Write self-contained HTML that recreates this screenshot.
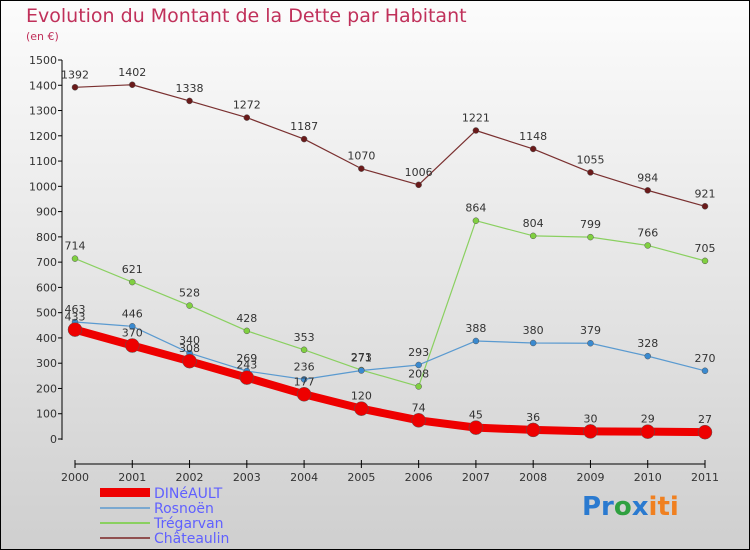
<!DOCTYPE html>
<html><head><meta charset="utf-8"><style>
body{margin:0}
#c{width:750px;height:550px;position:relative;overflow:hidden}
svg text{font-family:"DejaVu Sans","Liberation Sans",sans-serif}
</style></head><body>
<div id="c">
<svg id="s" width="750" height="550" xmlns="http://www.w3.org/2000/svg">
<defs><linearGradient id="bg" x1="0" y1="0" x2="0" y2="1"><stop offset="0" stop-color="#fcfcfc"/><stop offset="1" stop-color="#cfcfcf"/></linearGradient></defs>
<rect x="0.5" y="0.5" width="749" height="549" fill="url(#bg)" stroke="#000"/>
<text x="26" y="22" font-size="19" fill="#c0305a">Evolution du Montant de la Dette par Habitant</text>
<text x="26" y="40" font-size="11" fill="#c0305a">(en €)</text>
<g id="axes"></g><g id="series"></g>
<g>
<rect x="100" y="488" width="50" height="9" fill="#e00"/>
<text x="154" y="498" font-size="14" fill="#6060ff">DINéAULT</text>
<line x1="100" y1="508" x2="150" y2="508" stroke="#7aa8d0" stroke-width="2"/>
<text x="154" y="513" font-size="14" fill="#6060ff">Rosnoën</text>
<line x1="100" y1="523" x2="150" y2="523" stroke="#8ad060" stroke-width="2"/>
<text x="154" y="528" font-size="14" fill="#6060ff">Trégarvan</text>
<line x1="100" y1="538" x2="150" y2="538" stroke="#905050" stroke-width="2"/>
<text x="154" y="543" font-size="14" fill="#6060ff">Châteaulin</text>
</g>
<text x="582" y="515" font-size="26" font-weight="bold"><tspan fill="#2a7ad0">Pr</tspan><tspan fill="#30a040">o</tspan><tspan fill="#2a7ad0">x</tspan><tspan fill="#f08020">iti</tspan></text>
</svg></div>
<script>
const years=[2000,2001,2002,2003,2004,2005,2006,2007,2008,2009,2010,2011];
const yTicks=[0,100,200,300,400,500,600,700,800,900,1000,1100,1200,1300,1400,1500];
const dineault=[433,370,308,243,177,120,74,45,36,30,29,27];
const rosnoen=[463,446,340,269,236,271,293,388,380,379,328,270];
const tregarvan=[714,621,528,428,353,273,208,864,804,799,766,705];
const chateaulin=[1392,1402,1338,1272,1187,1070,1006,1221,1148,1055,984,921];
const NS='http://www.w3.org/2000/svg';
const X=i=>75+i*(630/(years.length-1));
const Y=v=>439-v*379/1500;
function mk(t,a,p){const e=document.createElementNS(NS,t);for(const k in a)e.setAttribute(k,a[k]);p.appendChild(e);return e;}
const ax=document.getElementById('axes');
const yl=mk('line',{x1:62,y1:60,x2:62,y2:440,stroke:'#000'},ax);


yTicks.forEach(v=>{
 const tk=mk('line',{x1:58,y1:Y(v),x2:62,y2:Y(v),stroke:'#000'},ax);
 
 
 const t=mk('text',{x:57,y:Y(v)+4,'font-size':11,fill:'#333','text-anchor':'end'},ax);
 t.textContent=v;
 
 
});
const xl=mk('line',{x1:75,y1:464,x2:705,y2:464,stroke:'#000'},ax);


years.forEach((y,i)=>{
 const tk=mk('line',{x1:X(i),y1:460,x2:X(i),y2:468,stroke:'#000'},ax);
 
 
 const t=mk('text',{x:X(i),y:481,'font-size':11,fill:'#333','text-anchor':'middle'},ax);
 t.textContent=y;
 
 
});
const sg=document.getElementById('series');
function series(d,name,col,dot,w,r){
 const g=mk('g',{},sg);
 
 
 const pl=mk('polyline',{points:d.map((v,i)=>X(i)+','+Y(v)).join(' '),fill:'none',stroke:col,'stroke-width':w,'stroke-linejoin':'round'},g);
 
 
 d.forEach((v,i)=>{
  const c=mk('circle',{cx:X(i),cy:Y(v),r:r,fill:dot,stroke:'#555','stroke-width':0.5},g);
  
  
  const t=mk('text',{x:X(i),y:Y(v)-9,'font-size':11,fill:'#333','text-anchor':'middle'},g);
  t.textContent=v;
  
  
 });
}
series(chateaulin,'chateaulin','#7a3030','#6a1a1a',1.2,3);
series(tregarvan,'tregarvan','#8ad060','#80d040',1.2,3);
series(rosnoen,'rosnoen','#5a9ad0','#3a8ad0',1.2,3);
series(dineault,'dineault','#ee0000','#ee0000',8,7);
</script>
</body></html>
